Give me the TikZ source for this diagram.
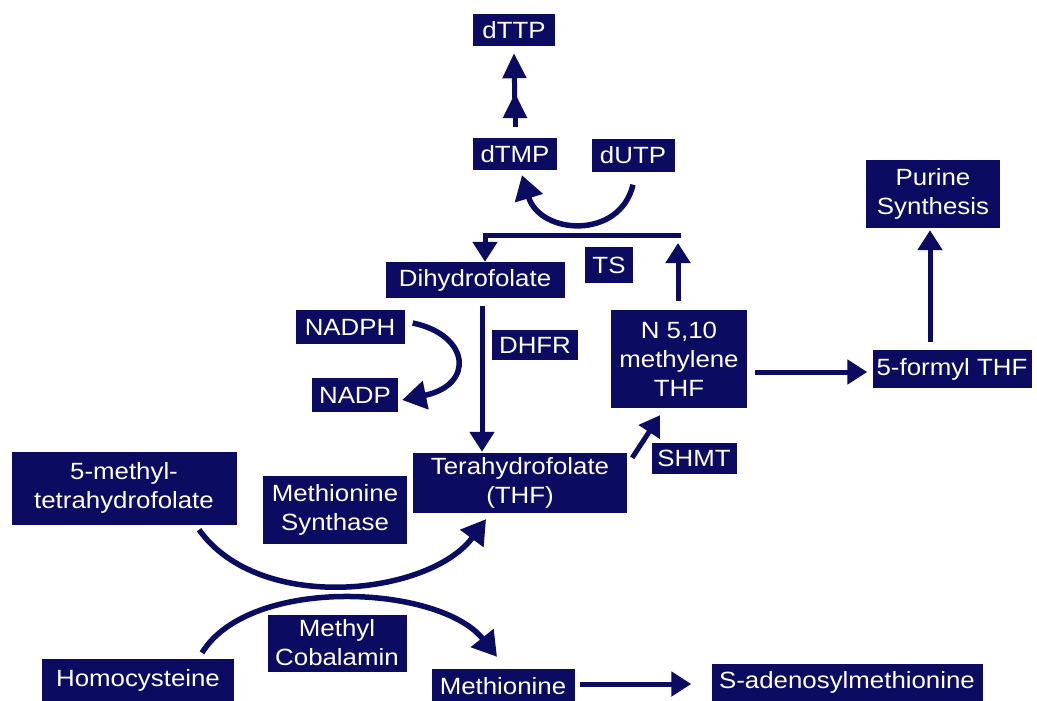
\documentclass[tikz,border=0pt]{standalone}
\usepackage{fontspec}
\setmainfont[FakeStretch=1.1]{Liberation Sans}
\usetikzlibrary{arrows.meta}
\definecolor{navy}{HTML}{0B0B62}
\begin{document}
\begin{tikzpicture}[x=1pt,y=-1pt,
  box/.style={fill=navy,text=white,inner sep=0pt,align=center,font=\fontsize{23.5}{29}\selectfont},
  arr/.style={draw=navy,line width=5pt,-{Triangle[length=20pt,width=24pt]}},
  darr/.style={draw=navy,line width=5pt,-{Triangle[length=25pt,width=23pt]}},
  carr/.style={draw=navy,line width=5.5pt,-{Triangle[length=24pt,width=28pt]}}]
\useasboundingbox (0,0) rectangle (1037,701);
\newcommand{\bx}[6]{\node[box,minimum width=#4pt,minimum height=#5pt] (#1) at (#2,#3) {#6};}
\bx{dTTP}{514}{30}{82}{32}{dTTP}
\bx{dTMP}{515}{154}{84}{32}{dTMP}
\bx{dUTP}{633}{155}{83}{33}{dUTP}
\bx{DHF}{475}{280}{179}{36}{Dihydrofolate}
\bx{TS}{609}{265}{48}{36}{TS}
\bx{NADPH}{350}{327}{109}{34}{NADPH}
\bx{DHFR}{535}{345}{86}{30}{DHFR}
\bx{NADP}{355}{395}{86}{34}{NADP}
\bx{MTHF}{679}{359}{136}{98}{N 5,10\\methylene\\THF}
\bx{FTHF}{952}{369}{159}{38}{5-formyl THF}
\bx{Purine}{933}{194}{134}{68}{Purine\\Synthesis}
\bx{Methyl}{124}{488}{225}{73}{5-methyl-\\tetrahydrofolate}
\bx{MS}{335}{510}{144}{68}{Methionine\\Synthase}
\bx{THF}{520}{483}{214}{60}{Terahydrofolate\\(THF)}
\bx{SHMT}{694}{458}{85}{31}{SHMT}
\bx{MeCob}{337}{643}{139}{57}{Methyl\\Cobalamin}
\bx{Hcy}{138}{680}{192}{42}{Homocysteine}
\bx{Met}{503}{686}{143}{34}{Methionine}
\bx{SAM}{847}{682}{271}{37}{S-adenosylmethionine}
% dTMP -> dTTP (double arrow)
\coordinate (mid) at (515,93);
\draw[darr] ([yshift=11pt]dTMP.north) -- (mid);
\draw[darr] ([yshift=-20pt]mid) -- ([yshift=-7pt]dTTP.south);
% dUTP -> dTMP
\draw[carr] ([xshift=0pt,yshift=-13pt]dUTP.south) .. controls (620,240) and (540,235) .. ([xshift=7pt,yshift=-5pt]dTMP.south);
% TS loop
\coordinate (tr) at (678,235);
\coordinate (tl) at (485,235);
\draw[arr] ([xshift=-1pt,yshift=9pt]MTHF.north) -- ([yshift=-8pt]tr);
\draw[arr,line join=miter] ([xshift=2.5pt]tr) -- (tl) -- (tl |- DHF.north);
% DHF -> THF
\draw[arr] ([xshift=7pt,yshift=-8pt]DHF.south) -- ([xshift=-38pt,yshift=1pt]THF.north);
% NADPH -> NADP
\draw[carr] ([xshift=8pt,yshift=4pt]NADPH.east) .. controls (470,335) and (475,385) .. ([xshift=4pt,yshift=-5pt]NADP.east);
% THF -> MTHF
\draw[arr] ([xshift=5pt,yshift=-5pt]THF.north east) -- ([xshift=-19pt,yshift=-7pt]MTHF.south);
% MTHF -> FTHF
\draw[arr] ([xshift=8pt,yshift=-13pt]MTHF.east) -- ([xshift=-5pt,yshift=-3pt]FTHF.west);
% FTHF -> Purine
\draw[arr] ([xshift=-22pt,yshift=8pt]FTHF.north) -- ([xshift=-3pt,yshift=-2pt]Purine.south);
% 5-methyl -> THF
\draw[carr] ([xshift=75pt,yshift=-5pt]Methyl.south) .. controls (260,615) and (430,595) .. ([xshift=-34pt,yshift=-6pt]THF.south);
% Homocysteine -> Methionine
\draw[carr] ([xshift=64pt,yshift=6pt]Hcy.north) .. controls (250,575) and (440,585) .. ([xshift=-6pt,yshift=12pt]Met.north);
% Met -> SAM
\coordinate (samin) at ([xshift=-20pt]SAM.west);
\draw[arr] ([xshift=5pt]Met.east |- 0,684) -- (samin |- 0,684);
\end{tikzpicture}
\end{document}
